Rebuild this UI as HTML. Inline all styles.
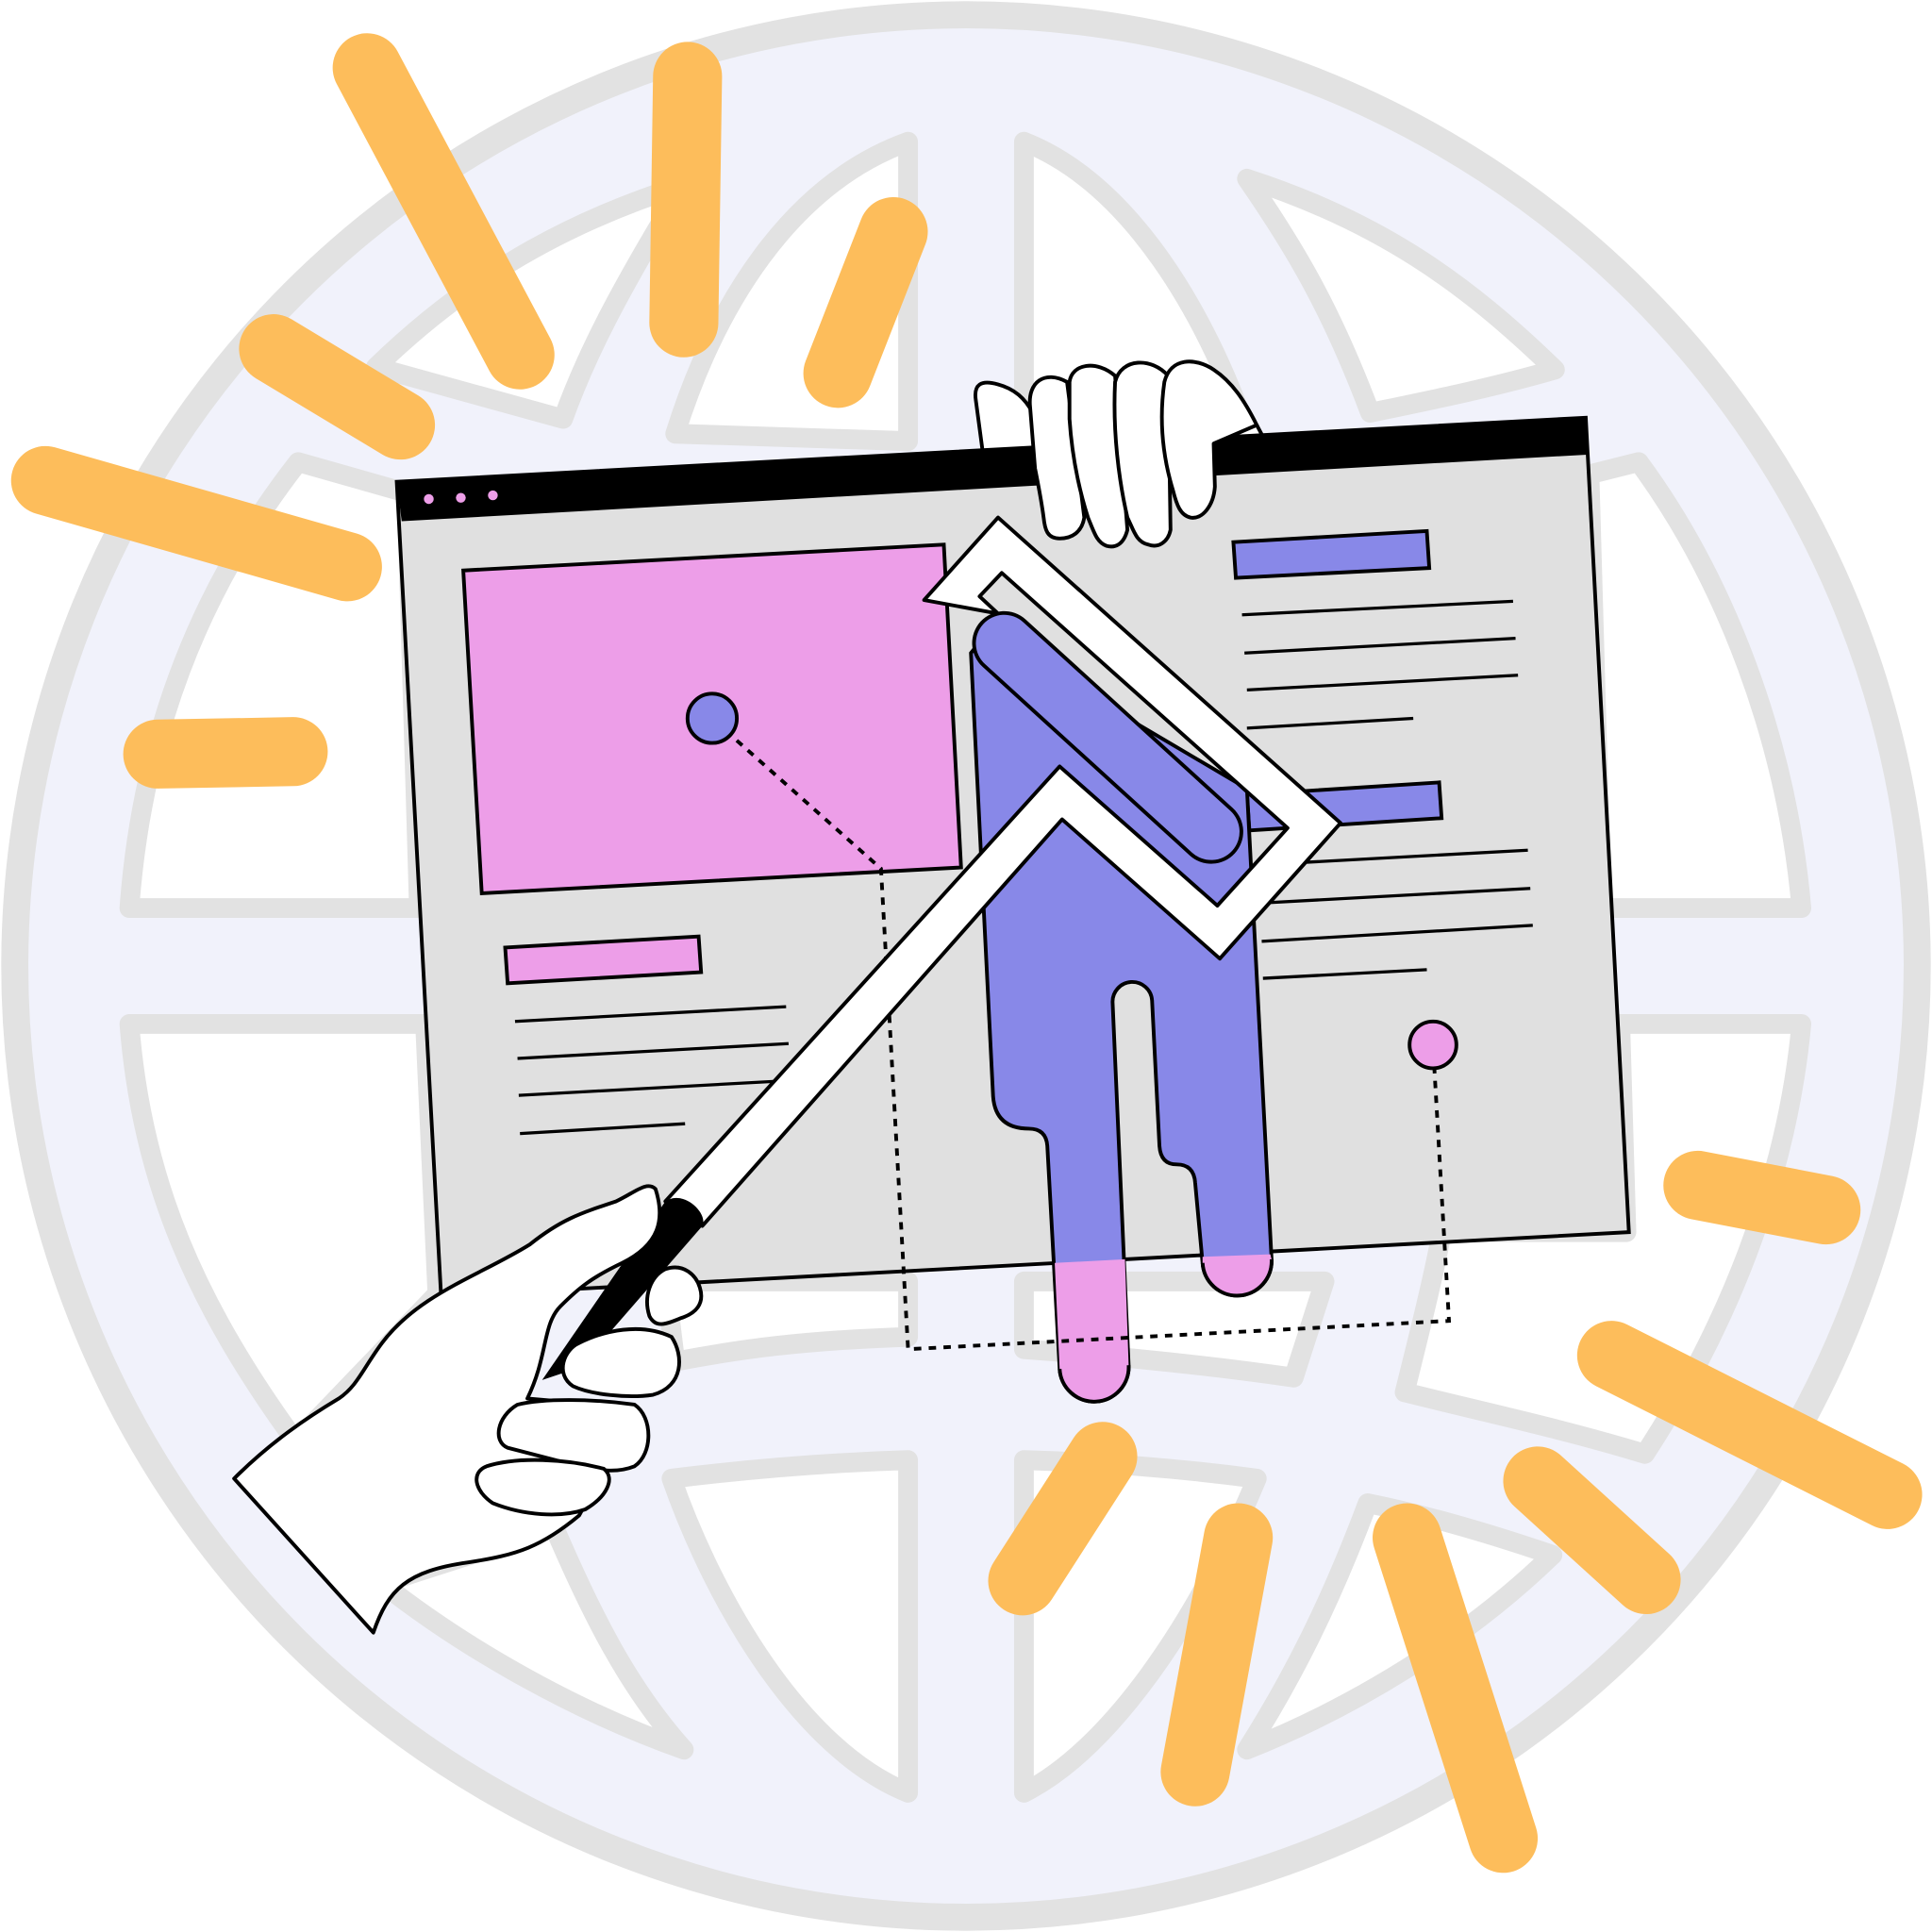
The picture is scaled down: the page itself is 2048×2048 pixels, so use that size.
<!DOCTYPE html>
<html><head><meta charset="utf-8"><style>html,body{margin:0;padding:0;background:#fff}svg{display:block}</style></head>
<body>
<svg width="2048" height="2048" viewBox="0 0 1568 1568" xmlns="http://www.w3.org/2000/svg">
<g stroke="#e2e2e2" stroke-linejoin="round" stroke-linecap="round">
<circle cx="784" cy="784" r="772" fill="#f1f2fb" stroke-width="22"/>
<g fill="#fff" stroke-width="16">
<path d="M737,115 C640,150 580,250 548,352 L737,358 Z"/>
<path d="M831,115 C920,150 980,260 1010,345 L831,360 Z"/>
<path d="M555,150 C500,240 475,290 457,340 L305,298 C380,225 460,180 555,150 Z"/>
<path d="M1012,145 C1120,180 1190,230 1262,300 C1210,315 1160,325 1112,335 C1080,250 1050,200 1012,145 Z"/>
<path d="M105,737 C115,600 160,480 242,375 L330,400 L340,737 Z"/>
<path d="M1330,375 C1400,470 1450,600 1462,737 L1300,737 L1290,385 Z"/>
<path d="M105,831 L345,831 L355,1050 L240,1170 C160,1060 115,960 105,831 Z"/>
<path d="M1462,831 C1450,960 1400,1080 1335,1180 C1270,1160 1200,1145 1140,1130 C1150,1090 1165,1030 1170,1000 L1320,1000 L1315,831 Z"/>
<path d="M737,1185 L737,1455 C650,1420 580,1300 545,1200 C610,1192 670,1187 737,1185 Z"/>
<path d="M831,1185 L831,1455 C900,1420 970,1320 1020,1200 C960,1192 900,1187 831,1185 Z"/>
<path d="M450,1240 C480,1310 510,1370 555,1420 C470,1390 380,1340 310,1285 Z"/>
<path d="M1110,1220 C1080,1300 1050,1360 1012,1420 C1100,1385 1190,1330 1260,1262 C1210,1245 1160,1230 1110,1220 Z"/>
<path d="M737,1040 L737,1085 C650,1088 600,1095 548,1105 L540,1040 Z"/>
<path d="M831,1040 L831,1095 C900,1100 980,1108 1050,1118 L1075,1040 Z"/>
</g></g>
<g stroke="#fdbd5b" stroke-width="56" stroke-linecap="round" fill="none">
<line x1="298" y1="55" x2="422" y2="288"/>
<line x1="558" y1="62" x2="555" y2="262"/>
<line x1="725" y1="188" x2="680" y2="303"/>
<line x1="222" y1="283" x2="325" y2="345"/>
<line x1="37" y1="390" x2="282" y2="460"/>
<line x1="128" y1="612" x2="238" y2="610"/>
<line x1="1378" y1="962" x2="1482" y2="982"/>
<line x1="1308" y1="1100" x2="1532" y2="1213"/>
<line x1="1248" y1="1202" x2="1336" y2="1282"/>
<line x1="895" y1="1182" x2="830" y2="1283"/>
<line x1="1005" y1="1248" x2="970" y2="1438"/>
<line x1="1142" y1="1248" x2="1220" y2="1492"/>
</g>
<!-- top hand palm -->
<g fill="#fff" stroke="#000" stroke-width="3" stroke-linejoin="round">
<path d="M798,370 L792,325 C790,312 796,308 810,312 C825,316 833,325 838,335 L1020,345 L1028,360 Z"/>
</g>
<!-- browser -->
<polygon points="322,391 1287,339 1322,1000 358,1052" fill="#e0e0e0" stroke="#000" stroke-width="3"/>
<polygon points="322,391 1287,339 1288,369 326,423" fill="#000"/>
<circle cx="348" cy="405" r="4" fill="#ed9ee8"/><circle cx="374" cy="404" r="4" fill="#ed9ee8"/><circle cx="400" cy="402" r="4" fill="#ed9ee8"/>
<!-- fingers over browser -->
<g fill="#fff" stroke="#000" stroke-width="3" stroke-linejoin="round">
<path d="M836,330 C834,310 848,300 866,310 L880,420 C878,432 870,437 860,437 C850,437 848,430 847,420 C845,405 842,390 840,380 Z"/>
<path d="M868,310 C870,295 890,292 905,305 L915,430 C912,442 905,445 898,443 C890,440 888,432 883,420 C875,395 870,370 868,340 Z"/>
<path d="M905,310 C910,290 935,290 948,305 L950,430 C948,440 940,445 932,442 C922,440 920,430 915,420 C908,390 903,350 905,310 Z"/>
<path d="M945,310 C950,290 970,290 985,300 C1000,310 1010,325 1020,345 L985,360 L986,395 C985,410 976,422 966,420 C958,418 955,410 952,398 C945,375 940,345 945,310 Z"/>
</g>
<polygon points="376,463 766,442 780,704 391,725" fill="#ed9ee8" stroke="#000" stroke-width="3"/>
<polygon points="410,769 567,760 569,789 412,798" fill="#ed9ee8" stroke="#000" stroke-width="3"/>
<polygon points="1001,440 1158,431 1160,461 1003,469" fill="#8888e8" stroke="#000" stroke-width="3"/>
<polygon points="1012,645 1168,635 1170,664 1014,674" fill="#8888e8" stroke="#000" stroke-width="3"/>
<g stroke="#000" stroke-width="2.5">
<line x1="1008" y1="499" x2="1228" y2="488"/><line x1="1010" y1="530" x2="1230" y2="518"/>
<line x1="1012" y1="560" x2="1232" y2="548"/><line x1="1012" y1="591" x2="1147" y2="583"/>
<line x1="1020" y1="702" x2="1240" y2="690"/><line x1="1022" y1="733" x2="1242" y2="721"/>
<line x1="1024" y1="764" x2="1244" y2="751"/><line x1="1025" y1="794" x2="1158" y2="787"/>
<line x1="418" y1="829" x2="638" y2="817"/><line x1="420" y1="859" x2="640" y2="847"/>
<line x1="421" y1="889" x2="640" y2="877"/><line x1="422" y1="920" x2="556" y2="912"/>
</g>
<!-- drip -->
<path d="M788,530 L800,515 L1012,640 L1032,1022 A28,28 0 0 1 976,1025 L970,960 Q969,945 955,945 Q942,945 941,930 L935,812 A16,16 0 0 0 903,814 L916,1108 A28,28 0 0 1 860,1111 L850,930 Q849,916 835,916 Q808,916 806,890 Z" fill="#8888e8" stroke="#000" stroke-width="3"/>
<path d="M976,1020 L1031,1018 L1032,1022 A28,28 0 0 1 976,1025 Z" fill="#ed9ee8"/>
<path d="M856,1025 L913,1022 L916,1108 A28,28 0 0 1 860,1111 Z" fill="#ed9ee8"/>
<path d="M1032,1022 A28,28 0 0 1 976,1025 M916,1108 A28,28 0 0 1 860,1111" fill="none" stroke="#000" stroke-width="3"/>
<!-- dotted -->
<path d="M580,585 L715,705 L737,1095 L1176,1072 L1163,848" fill="none" stroke="#000" stroke-width="3" stroke-dasharray="6,6"/>
<circle cx="578" cy="583" r="20" fill="#8888e8" stroke="#000" stroke-width="3"/>
<circle cx="1163" cy="848" r="19" fill="#ed9ee8" stroke="#000" stroke-width="3"/>
<!-- tool -->
<path d="M750,487 L810,420 L1088,668 L990,778 L862,665 L570,995 L540,975 L860,622 L988,735 L1045,672 L813,465 L795,484 L810,498 Z" fill="#fff" stroke="#000" stroke-width="3" stroke-linejoin="round"/>
<line x1="815" y1="522" x2="983" y2="675" stroke="#000" stroke-width="52" stroke-linecap="round"/>
<line x1="815" y1="522" x2="983" y2="675" stroke="#8888e8" stroke-width="46" stroke-linecap="round"/>
<path d="M540,975 C555,965 575,985 570,995 L470,1110 L440,1120 Z" fill="#000"/>
<!-- bottom hand -->
<g fill="#fff" stroke="#000" stroke-width="3" stroke-linejoin="round">
<path d="M190,1200 C220,1170 250,1150 275,1135 C290,1125 295,1110 310,1090 C340,1050 390,1035 430,1010 C455,990 470,985 500,975 C515,968 525,958 532,965 C540,990 535,1010 505,1025 C480,1037 470,1045 455,1060 C440,1075 445,1100 428,1135 L485,1140 L500,1175 L470,1230 C440,1255 420,1262 380,1268 C330,1275 315,1290 303,1325 Z"/>
<path d="M540,1030 C555,1025 565,1035 568,1045 C572,1058 565,1066 552,1070 C540,1075 532,1078 527,1068 C522,1052 528,1036 540,1030 Z"/>
<path d="M470,1090 C490,1080 520,1073 545,1085 C555,1100 555,1125 530,1132 C510,1135 480,1132 465,1125 C450,1115 458,1095 470,1090 Z"/>
<path d="M420,1140 C440,1135 480,1135 515,1140 C530,1150 530,1180 515,1190 C500,1196 485,1193 470,1190 L412,1175 C400,1170 403,1150 420,1140 Z"/>
<path d="M395,1190 C420,1182 460,1184 490,1192 C500,1200 492,1215 475,1225 C455,1232 425,1230 400,1220 C385,1210 382,1195 395,1190 Z"/>
</g>
</svg>
</body></html>
